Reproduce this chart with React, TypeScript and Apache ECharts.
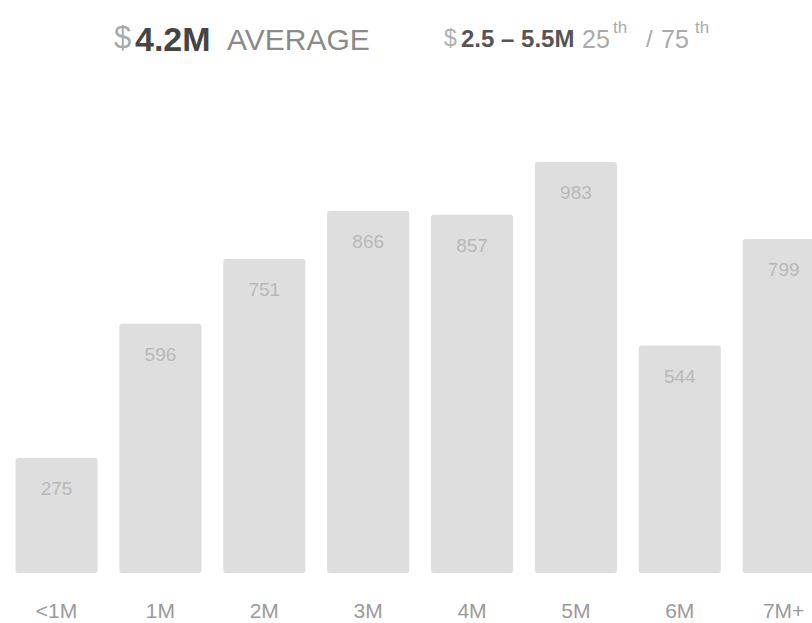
import React, { useEffect, useRef } from "react";
import * as echarts from "echarts";

const categories = ["<1M", "1M", "2M", "3M", "4M", "5M", "6M", "7M+"];
const counts = [275, 596, 751, 866, 857, 983, 544, 799];
const averageLabel = "4.2M";
const rangeLabel = "2.5 – 5.5M";

const FONT = "'Liberation Sans', Arial, sans-serif";

export default function App() {
  const ref = useRef<HTMLDivElement>(null);
  useEffect(() => {
    if (!ref.current) return;
    const chart = echarts.init(ref.current, undefined, { renderer: "svg" });
    chart.setOption({
      animation: false,
      backgroundColor: "#ffffff",
      grid: {
        left: 4.6,
        top: 155,
        width: 831,
        height: 418,
        containLabel: false,
        outerBoundsMode: "none",
      },
      xAxis: {
        type: "category",
        data: categories,
        axisLine: { show: false },
        axisTick: { show: false },
        axisLabel: { color: "#9a9a9a", fontSize: 21, fontFamily: FONT, margin: 27 },
      },
      yAxis: {
        type: "value",
        min: 0,
        max: 1000,
        show: false,
        splitLine: { show: false },
      },
      series: [
        {
          type: "bar",
          data: counts,
          barCategoryGap: "21%",
          itemStyle: { color: "#dedede", borderRadius: 3 },
          label: {
            show: true,
            position: "insideTop",
            distance: 21,
            color: "#b8b8b8",
            fontSize: 19,
            fontFamily: FONT,
          },
        },
      ],
      graphic: [
        { type: "text", left: 114, top: 22, style: { text: "$", fontSize: 31, fontFamily: FONT, fill: "#aaaaaa" } },
        { type: "text", left: 135, top: 22, style: { text: averageLabel, fontSize: 34, fontWeight: "bold", fontFamily: FONT, fill: "#454545" } },
        { type: "text", left: 227, top: 24, style: { text: "AVERAGE", fontSize: 30, fontFamily: FONT, fill: "#8a8a8a" } },
        { type: "text", left: 444, top: 26, style: { text: "$", fontSize: 23, fontFamily: FONT, fill: "#b0b0b0" } },
        { type: "text", left: 461, top: 26, style: { text: rangeLabel, fontSize: 24, fontWeight: "bold", fontFamily: FONT, fill: "#555555" } },
        { type: "text", left: 582, top: 26, style: { text: "25", fontSize: 25, fontFamily: FONT, fill: "#aaaaaa" } },
        { type: "text", left: 613, top: 19, style: { text: "th", fontSize: 17, fontFamily: FONT, fill: "#aaaaaa" } },
        { type: "text", left: 646, top: 26, style: { text: "/", fontSize: 24, fontFamily: FONT, fill: "#aaaaaa" } },
        { type: "text", left: 661, top: 26, style: { text: "75", fontSize: 25, fontFamily: FONT, fill: "#aaaaaa" } },
        { type: "text", left: 695, top: 19, style: { text: "th", fontSize: 17, fontFamily: FONT, fill: "#aaaaaa" } },
      ],
    });
    return () => chart.dispose();
  }, []);
  return <div ref={ref} style={{ width: 812, height: 623, position: "fixed", left: 0, top: 0 }} />;
}
